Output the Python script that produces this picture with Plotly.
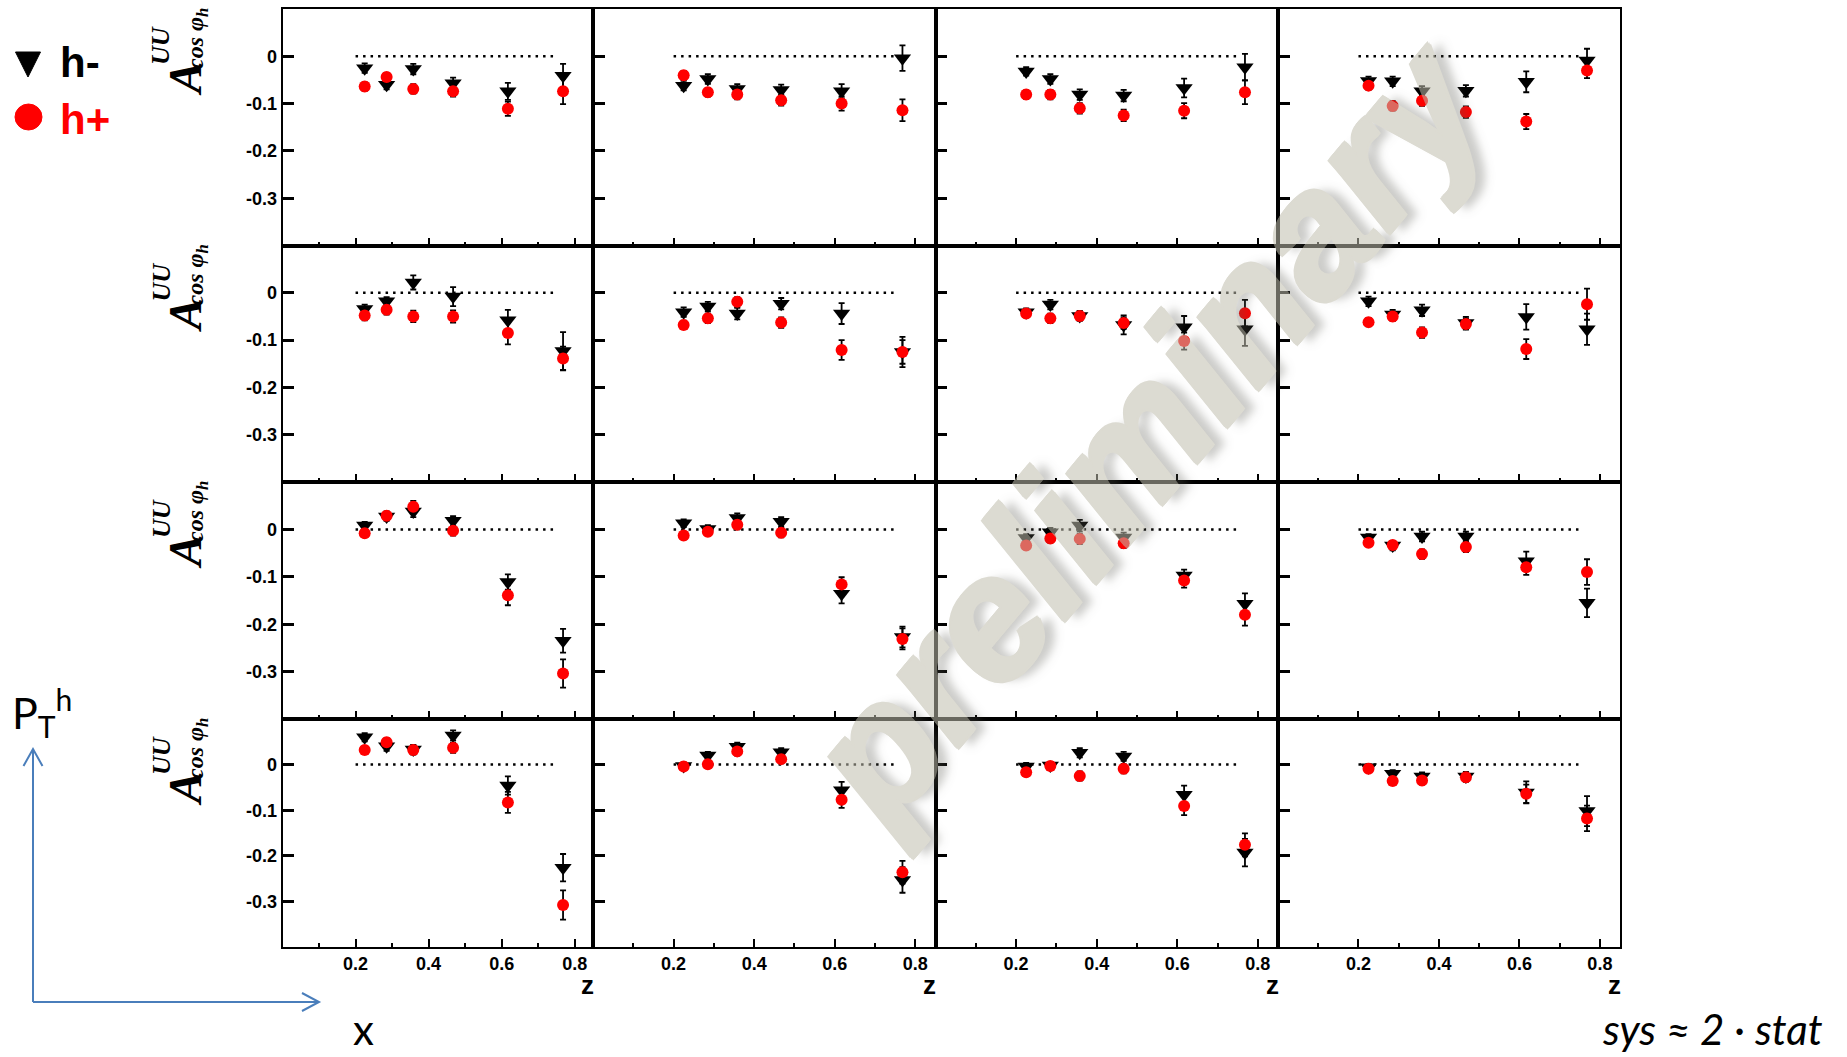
import plotly.graph_objects as go

W, H = 1847, 1057

# z bin centres (shared by every panel)
z_bins = [0.225, 0.285, 0.358, 0.467, 0.617, 0.768]

# axis ticks
x_tickvals = [0.2, 0.4, 0.6, 0.8]
x_ticktext = ["0.2", "0.4", "0.6", "0.8"]
x_minor = [0.1, 0.3, 0.5, 0.7]
y_tickvals = [-0.3, -0.2, -0.1, 0.0]
y_ticktext = ["-0.3", "-0.2", "-0.1", "0"]
zero_line_x = [0.2, 0.75]

# A_UU^cos(phi_h) for negative hadrons, panels in row-major order (4 x-bins across, 4 P_T bins down)
hm_vals = [
    [-0.025, -0.060, -0.027, -0.057, -0.074, -0.041],
    [-0.062, -0.048, -0.069, -0.071, -0.074, -0.004],
    [-0.032, -0.048, -0.081, -0.083, -0.067, -0.023],
    [-0.052, -0.053, -0.074, -0.073, -0.054, -0.009],
    [-0.034, -0.018, 0.022, -0.008, -0.058, -0.123],
    [-0.041, -0.029, -0.044, -0.023, -0.044, -0.125],
    [-0.041, -0.025, -0.049, -0.068, -0.073, -0.077],
    [-0.018, -0.046, -0.037, -0.064, -0.051, -0.077],
    [0.008, 0.027, 0.038, 0.018, -0.111, -0.235],
    [0.013, 0.001, 0.024, 0.016, -0.136, -0.227],
    [-0.018, -0.006, 0.008, -0.017, -0.097, -0.157],
    [-0.017, -0.034, -0.015, -0.015, -0.067, -0.155],
    [0.060, 0.040, 0.033, 0.064, -0.046, -0.226],
    [-0.003, 0.020, 0.039, 0.027, -0.056, -0.253],
    [-0.004, -0.002, 0.026, 0.018, -0.066, -0.193],
    [-0.006, -0.020, -0.026, -0.026, -0.061, -0.102],
]
hm_errs = [
    [0.010, 0.010, 0.011, 0.012, 0.018, 0.025],
    [0.010, 0.010, 0.010, 0.011, 0.015, 0.027],
    [0.009, 0.010, 0.011, 0.012, 0.020, 0.028],
    [0.009, 0.010, 0.011, 0.012, 0.022, 0.025],
    [0.009, 0.009, 0.015, 0.020, 0.022, 0.040],
    [0.010, 0.010, 0.012, 0.012, 0.022, 0.032],
    [0.008, 0.010, 0.010, 0.020, 0.024, 0.035],
    [0.010, 0.010, 0.012, 0.013, 0.027, 0.033],
    [0.008, 0.009, 0.012, 0.010, 0.016, 0.025],
    [0.008, 0.008, 0.010, 0.010, 0.020, 0.022],
    [0.008, 0.009, 0.012, 0.010, 0.012, 0.022],
    [0.007, 0.010, 0.010, 0.010, 0.020, 0.030],
    [0.009, 0.010, 0.010, 0.011, 0.020, 0.030],
    [0.008, 0.008, 0.009, 0.009, 0.018, 0.028],
    [0.008, 0.008, 0.010, 0.010, 0.020, 0.030],
    [0.007, 0.008, 0.009, 0.010, 0.024, 0.033],
]

# A_UU^cos(phi_h) for positive hadrons
hp_vals = [
    [-0.064, -0.044, -0.069, -0.074, -0.111, -0.074],
    [-0.040, -0.076, -0.081, -0.093, -0.100, -0.114],
    [-0.081, -0.081, -0.110, -0.125, -0.115, -0.076],
    [-0.062, -0.105, -0.094, -0.118, -0.138, -0.030],
    [-0.048, -0.036, -0.050, -0.050, -0.085, -0.139],
    [-0.068, -0.054, -0.019, -0.063, -0.121, -0.125],
    [-0.044, -0.054, -0.049, -0.064, -0.102, -0.043],
    [-0.062, -0.050, -0.084, -0.066, -0.119, -0.024],
    [-0.008, 0.029, 0.048, -0.003, -0.139, -0.304],
    [-0.013, -0.005, 0.010, -0.007, -0.116, -0.231],
    [-0.034, -0.019, -0.020, -0.029, -0.108, -0.180],
    [-0.028, -0.033, -0.052, -0.037, -0.080, -0.090],
    [0.032, 0.049, 0.032, 0.037, -0.083, -0.308],
    [-0.004, 0.001, 0.029, 0.012, -0.077, -0.236],
    [-0.017, -0.003, -0.025, -0.009, -0.091, -0.176],
    [-0.009, -0.036, -0.035, -0.028, -0.064, -0.118],
]
hp_errs = [
    [0.009, 0.009, 0.010, 0.011, 0.015, 0.027],
    [0.009, 0.009, 0.010, 0.011, 0.015, 0.023],
    [0.009, 0.010, 0.011, 0.012, 0.016, 0.025],
    [0.009, 0.010, 0.011, 0.012, 0.016, 0.016],
    [0.010, 0.010, 0.012, 0.013, 0.024, 0.025],
    [0.009, 0.010, 0.010, 0.011, 0.021, 0.025],
    [0.008, 0.010, 0.010, 0.012, 0.018, 0.028],
    [0.009, 0.010, 0.011, 0.012, 0.021, 0.033],
    [0.008, 0.009, 0.012, 0.010, 0.021, 0.030],
    [0.008, 0.008, 0.010, 0.010, 0.015, 0.022],
    [0.008, 0.009, 0.011, 0.010, 0.015, 0.023],
    [0.007, 0.009, 0.010, 0.011, 0.016, 0.027],
    [0.009, 0.009, 0.010, 0.011, 0.023, 0.032],
    [0.008, 0.008, 0.009, 0.009, 0.018, 0.025],
    [0.008, 0.008, 0.010, 0.010, 0.020, 0.025],
    [0.007, 0.008, 0.009, 0.010, 0.020, 0.028],
]

# panel frame edges in pixels
col_edges = [282.5, 593, 935.5, 1278, 1620]
row_edges = [9, 245.5, 482, 719, 947]


def px(x):
    return x / W


def py(y):
    return 1 - y / H


fig = go.Figure()
layout_axes = {}
tick_font = dict(family="Liberation Sans", size=18, color="black", weight="bold")

for r in range(4):
    for c in range(4):
        k = r * 4 + c
        sfx = "" if k == 0 else str(k + 1)
        xa, ya = "x" + sfx, "y" + sfx

        layout_axes["xaxis" + sfx] = dict(
            domain=[px(col_edges[c]), px(col_edges[c + 1])],
            anchor=ya, range=[0, 0.85],
            showline=True, mirror=True, linecolor="black", linewidth=1.6,
            ticks="inside", ticklen=8, tickwidth=2, tickcolor="black",
            tickmode="array", tickvals=x_tickvals, ticktext=x_ticktext,
            showticklabels=(r == 3), tickfont=tick_font,
            minor=dict(tickmode="array", tickvals=x_minor, ticks="inside",
                       ticklen=4, tickwidth=1.5, tickcolor="black", showgrid=False),
            showgrid=False, zeroline=False, fixedrange=True,
        )
        layout_axes["yaxis" + sfx] = dict(
            domain=[py(row_edges[r + 1]), py(row_edges[r])],
            anchor=xa, range=[-0.4, 0.1],
            showline=True, mirror=True, linecolor="black", linewidth=1.6,
            ticks="inside", ticklen=12, tickwidth=2.5, tickcolor="black",
            tickmode="array", tickvals=y_tickvals, ticktext=y_ticktext,
            showticklabels=(c == 0), tickfont=tick_font,
            showgrid=False, zeroline=False, fixedrange=True,
        )

        # dotted reference line at zero
        fig.add_trace(go.Scatter(
            x=zero_line_x, y=[0, 0], xaxis=xa, yaxis=ya, mode="lines",
            line=dict(color="black", width=2.5, dash="2.5px,5px"),
            hoverinfo="skip", showlegend=False,
        ))
        # h- : black down triangles
        fig.add_trace(go.Scatter(
            x=z_bins, y=hm_vals[k], xaxis=xa, yaxis=ya, mode="markers",
            marker=dict(symbol="triangle-down", size=15, color="black"),
            error_y=dict(type="data", array=hm_errs[k], color="black", thickness=1.8, width=3),
            name="h-", showlegend=False,
        ))
        # h+ : red circles
        fig.add_trace(go.Scatter(
            x=z_bins, y=hp_vals[k], xaxis=xa, yaxis=ya, mode="markers",
            marker=dict(symbol="circle", size=12, color="#ff0000"),
            error_y=dict(type="data", array=hp_errs[k], color="black", thickness=1.8, width=3),
            name="h+", showlegend=False,
        ))

annotations = []

# y-axis titles A^{UU}_{cos phi_h}, one per row, built from stacked pieces
serif = "Liberation Serif"
for r in range(4):
    top = row_edges[r]
    annotations.append(dict(
        x=px(185), y=py(top + 70), xref="paper", yref="paper", text="A",
        textangle=-90, showarrow=False, xanchor="center", yanchor="middle",
        font=dict(family=serif, size=47, color="black", weight="bold", style="italic"),
    ))
    annotations.append(dict(
        x=px(161), y=py(top + 37), xref="paper", yref="paper", text="UU",
        textangle=-90, showarrow=False, xanchor="center", yanchor="middle",
        font=dict(family=serif, size=26, color="black", weight="bold", style="italic"),
    ))
    annotations.append(dict(
        x=px(197), y=py(top + 30), xref="paper", yref="paper", text="cos φ<sub>h</sub>",
        textangle=-90, showarrow=False, xanchor="center", yanchor="middle",
        font=dict(family=serif, size=24, color="black", weight="bold", style="italic"),
    ))

# "z" label below each column
for c in range(4):
    annotations.append(dict(
        x=px(col_edges[c + 1] - 6), y=py(985), xref="paper", yref="paper", text="z",
        showarrow=False, xanchor="center", yanchor="middle",
        font=dict(family="Liberation Sans", size=26, color="black", weight="bold"),
    ))

# legend text
annotations.append(dict(
    x=px(58), y=py(63), xref="paper", yref="paper", text="h-", showarrow=False,
    xanchor="left", yanchor="middle",
    font=dict(family="Liberation Sans", size=42, color="black", weight="bold"),
))
annotations.append(dict(
    x=px(58), y=py(120), xref="paper", yref="paper", text="h+", showarrow=False,
    xanchor="left", yanchor="middle",
    font=dict(family="Liberation Sans", size=42, color="#ff0000", weight="bold"),
))

# bin axes sketch labels
annotations.append(dict(
    x=px(10), y=py(712), xref="paper", yref="paper", text="P<sub>T</sub><sup>h</sup>",
    showarrow=False, xanchor="left", yanchor="middle",
    font=dict(family="Lato", size=43, color="black"),
))
annotations.append(dict(
    x=px(363), y=py(1029), xref="paper", yref="paper", text="x",
    showarrow=False, xanchor="center", yanchor="middle",
    font=dict(family="Lato", size=42, color="black"),
))
annotations.append(dict(
    x=px(1712), y=py(1029), xref="paper", yref="paper", text="sys ≈ 2 · stat",
    showarrow=False, xanchor="center", yanchor="middle",
    font=dict(family="Lato", size=42, color="black", style="italic"),
))

# watermark: opaque glyphs thickened with same-colour offsets, then faded as a whole
wm = "rgb(192,190,174)"
wm_shadow = ", ".join([
    f"2px 0 0 {wm}", f"-2px 0 0 {wm}", f"0 2px 0 {wm}", f"0 -2px 0 {wm}",
    f"2px 2px 0 {wm}", f"-2px -2px 0 {wm}", f"2px -2px 0 {wm}", f"-2px 2px 0 {wm}",
    "9px 9px 8px rgba(90,90,80,0.55)",
])
annotations.append(dict(
    x=px(1145), y=py(430), xref="paper", yref="paper", text="preliminary",
    textangle=-50, showarrow=False, xanchor="center", yanchor="middle", opacity=0.55,
    font=dict(family="Liberation Sans", size=175, color=wm,
              weight="bold", style="italic", shadow=wm_shadow),
))

shapes = []
blue = "#4a7ebb"
# P_T arrow (vertical) and x arrow (horizontal)
shapes.append(dict(type="line", xref="paper", yref="paper",
                   x0=px(33), y0=py(1002), x1=px(33), y1=py(749),
                   line=dict(color=blue, width=2)))
shapes.append(dict(type="path", xref="paper", yref="paper",
                   path=f"M{px(23.5)},{py(766)} L{px(33)},{py(749)} L{px(42.5)},{py(766)}",
                   line=dict(color=blue, width=2)))
shapes.append(dict(type="line", xref="paper", yref="paper",
                   x0=px(33), y0=py(1002), x1=px(319), y1=py(1002),
                   line=dict(color=blue, width=2)))
shapes.append(dict(type="path", xref="paper", yref="paper",
                   path=f"M{px(302)},{py(993)} L{px(319)},{py(1002)} L{px(302)},{py(1011)}",
                   line=dict(color=blue, width=2)))
# legend symbols
shapes.append(dict(type="path", xref="paper", yref="paper",
                   path=f"M{px(15.5)},{py(52)} L{px(40.5)},{py(52)} L{px(28)},{py(77)} Z",
                   fillcolor="black", line=dict(color="black", width=1)))
shapes.append(dict(type="circle", xref="paper", yref="paper",
                   x0=px(15), x1=px(42), y0=py(130), y1=py(104),
                   fillcolor="#ff0000", line=dict(color="#ff0000", width=1)))

fig.update_layout(
    width=W, height=H,
    margin=dict(l=0, r=0, t=0, b=0),
    paper_bgcolor="white", plot_bgcolor="white",
    showlegend=False,
    annotations=annotations,
    shapes=shapes,
    **layout_axes,
)

fig.write_html("out.html")
